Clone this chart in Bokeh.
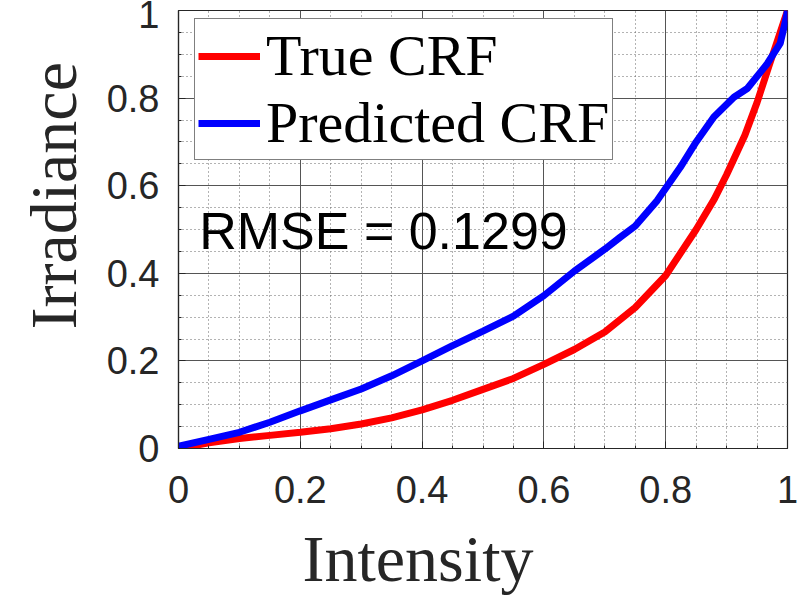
from bokeh.plotting import figure
from bokeh.models import FixedTicker, Label, Title
from bokeh.embed import file_html
from bokeh.resources import INLINE

# ---- data ----
true_x = [0.0, 0.05, 0.1, 0.15, 0.2, 0.25, 0.3, 0.35, 0.4, 0.45, 0.5, 0.55, 0.6,
          0.65, 0.7, 0.75, 0.8, 0.85, 0.88, 0.9, 0.93, 0.95, 0.97, 1.0]
true_y = [0.0, 0.013, 0.023, 0.03, 0.037, 0.045, 0.056, 0.07, 0.088, 0.11, 0.135,
          0.16, 0.192, 0.226, 0.266, 0.322, 0.395, 0.5, 0.57, 0.625, 0.715, 0.79,
          0.875, 1.0]

pred_x = [0.0, 0.05, 0.1, 0.15, 0.2, 0.25, 0.3, 0.35, 0.4, 0.45, 0.5, 0.55, 0.6,
          0.65, 0.7, 0.725, 0.75, 0.786, 0.824, 0.85, 0.879, 0.912, 0.934, 0.967,
          0.988, 0.997, 1.0]
pred_y = [0.005, 0.021, 0.037, 0.06, 0.086, 0.111, 0.136, 0.166, 0.2, 0.235, 0.268,
          0.302, 0.349, 0.405, 0.455, 0.482, 0.508, 0.566, 0.642, 0.7, 0.757, 0.802,
          0.822, 0.879, 0.925, 0.978, 1.0]

major_ticks = [0, 0.2, 0.4, 0.6, 0.8, 1]
tick_labels = ["0", "0.2", "0.4", "0.6", "0.8", "1"]
minor_ticks = [0.05, 0.1, 0.15, 0.25, 0.3, 0.35, 0.45, 0.5, 0.55, 0.65, 0.7, 0.75,
               0.85, 0.9, 0.95]

rmse_text = "RMSE = 0.1299"
series_names = ["True CRF", "Predicted CRF"]
x_title = "Intensity"
y_title = "Irradiance"

# ---- figure ----
p = figure(width=800, height=610, output_backend="svg", toolbar_location=None,
           x_range=(0, 1), y_range=(0, 1),
           min_border_left=178, min_border_right=13, min_border_top=10,
           min_border_bottom=162)
p.background_fill_color = "white"
p.border_fill_color = "white"
p.outline_line_color = "#262626"
p.outline_line_width = 1.2

overrides = {t: l for t, l in zip(major_ticks, tick_labels)}
for ax in (p.xaxis, p.yaxis):
    ax.ticker = FixedTicker(ticks=major_ticks, minor_ticks=minor_ticks)
    ax.major_label_overrides = overrides
    ax.major_label_text_font = "Liberation Sans"
    ax.major_label_text_font_size = "38px"
    ax.major_label_text_color = "#262626"
    ax.axis_line_color = "#262626"
    ax.axis_line_width = 1.2
    ax.major_tick_in = 7
    ax.major_tick_out = 0
    ax.minor_tick_in = 3
    ax.minor_tick_out = 0
    ax.major_tick_line_color = "#262626"
    ax.minor_tick_line_color = "#262626"
p.xaxis.major_label_standoff = 27
p.yaxis.major_label_standoff = 19

for g in (p.xgrid, p.ygrid):
    g.ticker = FixedTicker(ticks=major_ticks, minor_ticks=minor_ticks)
    g.grid_line_color = "#555555"
    g.grid_line_width = 1
    g.grid_line_alpha = 1.0
    g.minor_grid_line_color = "#666666"
    g.minor_grid_line_dash = "1 3"
    g.minor_grid_line_width = 1

p.line(true_x, true_y, line_color="#ff0000", line_width=7, legend_label=series_names[0])
p.line(pred_x, pred_y, line_color="#0000ff", line_width=7, legend_label=series_names[1])

lg = p.legend[0]
lg.location = (16, 288)
lg.label_text_font = "Liberation Serif"
lg.label_text_font_size = "58px"
lg.label_text_color = "black"
lg.glyph_width = 62
lg.glyph_height = 30
lg.label_standoff = 6
lg.padding = 3
lg.spacing = 0
lg.margin = 0
lg.border_line_color = "black"
lg.border_line_width = 1.2
lg.background_fill_color = "white"
lg.background_fill_alpha = 1.0

p.add_layout(Label(x=0.034, y=0.497, text=rmse_text, text_font="Liberation Sans",
                   text_font_size="52px", text_color="black",
                   text_baseline="alphabetic", text_align="left"))

p.add_layout(Title(text=x_title, text_font="Liberation Serif", text_font_size="66px",
                   text_font_style="normal", text_color="#262626",
                   align="left", offset=124, standoff=28), "below")
p.add_layout(Title(text=y_title, text_font="Liberation Serif", text_font_size="66px",
                   text_font_style="normal", text_color="#262626",
                   align="left", offset=119, standoff=28), "left")

open("out.html", "w").write(file_html(p, INLINE))
